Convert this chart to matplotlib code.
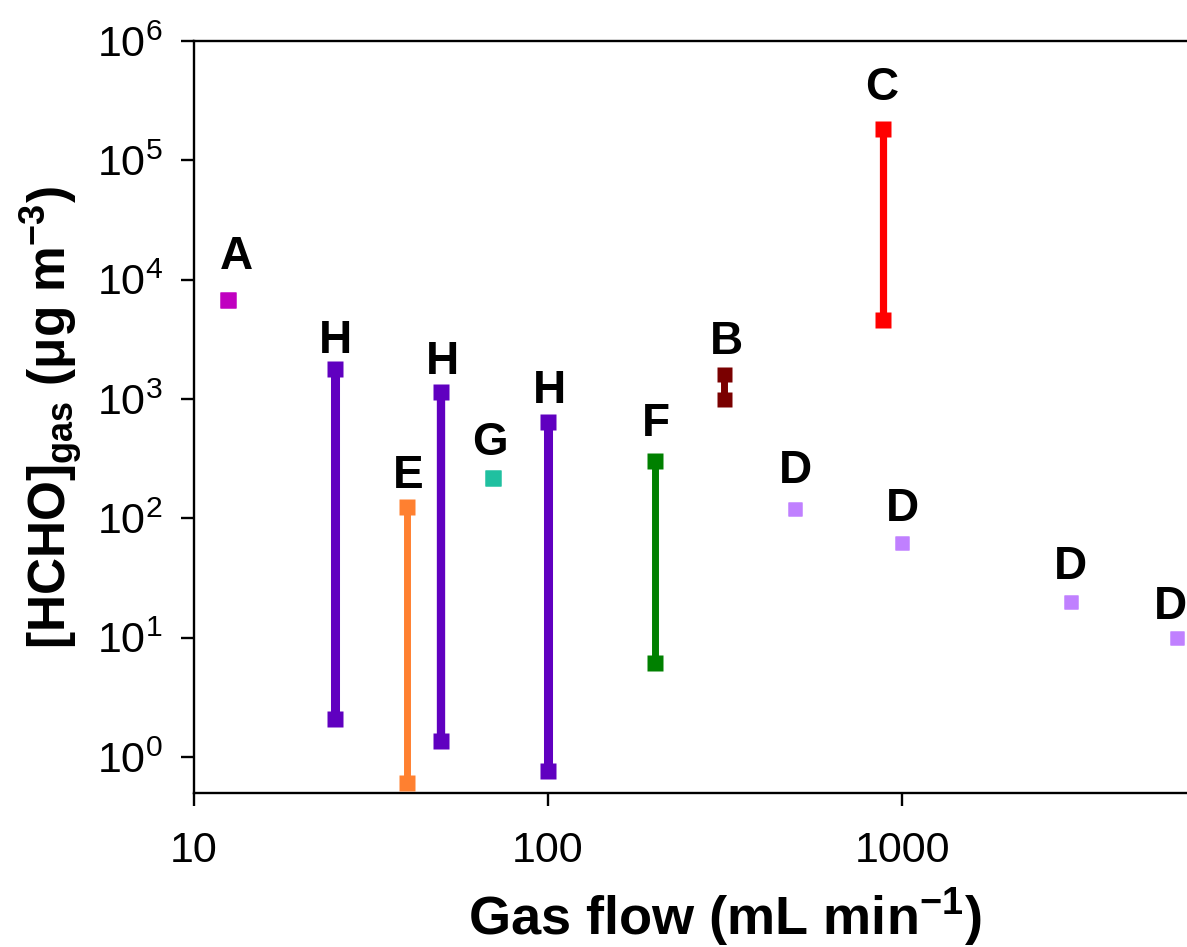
import matplotlib
matplotlib.use("Agg")
import matplotlib.pyplot as plt
from matplotlib.ticker import FixedLocator, FixedFormatter, LogFormatterMathtext, NullLocator

plt.rcParams['font.family'] = ['Liberation Sans', 'DejaVu Sans']
plt.rcParams['mathtext.fontset'] = 'custom'
plt.rcParams['mathtext.rm'] = 'Liberation Sans'
plt.rcParams['mathtext.it'] = 'Liberation Sans:italic'
plt.rcParams['mathtext.bf'] = 'Liberation Sans:bold'

# ---- data ----
labels = ['A', 'H', 'E', 'H', 'G', 'H', 'F', 'B', 'C', 'D', 'D', 'D', 'D']
gas_flow = [12.5, 25, 40, 50, 70, 100, 200, 315, 885, 500, 1000, 3000, 6000]
hcho_low = [6800, 2.1, 0.61, 1.36, 216, 0.76, 6.1, 1000, 4600, 120, 62, 20, 10]
hcho_high = [6800, 1770, 125, 1150, 216, 643, 300, 1620, 184000, 120, 62, 20, 10]
colors = ['#C000C0', '#6000C0', '#FF8030', '#6000C0', '#20C0A0', '#6000C0',
          '#008000', '#7A0000', '#FF0000', '#C080FF', '#C080FF', '#C080FF', '#C080FF']
x_ticks = [10, 100, 1000]
x_ticklabels = ['10', '100', '1000']
y_ticks = [1, 10, 100, 1000, 1e4, 1e5, 1e6]

# ---- layout / style ----
line_widths = [0, 6.5, 5, 6, 0, 6.5, 5, 5, 5.2, 0, 0, 0, 0]
marker_sizes = [11, 11, 11, 11, 12, 11, 11, 10.8, 11, 10.6, 10.6, 10.6, 10.6]
# label placement relative to top marker, in pixels (dx, dy up)
label_dx = [8, 1, 1, 1, -3, 1, 1, 2, -2, 0, 0, 0, -7]
label_dy = [31, 16, 19, 18, 23, 19, 25, 20, 29, 26, 22, 23, 19]

W, H = 1187, 947
fig = plt.figure(figsize=(W / 100, H / 100), dpi=100)
ax_left, ax_right = 194, 1256
ax_top, ax_bottom = 41, 793
ax = fig.add_axes([ax_left / W, (H - ax_bottom) / H,
                   (ax_right - ax_left) / W, (ax_bottom - ax_top) / H])
ax.set_xscale('log')
ax.set_yscale('log')
ax.set_xlim(10, 10000)
ax.set_ylim(0.5, 1e6)

px2pt = 72 / 100
for i in range(len(labels)):
    xs = [gas_flow[i], gas_flow[i]]
    ys = [hcho_low[i], hcho_high[i]]
    if line_widths[i] > 0:
        ax.plot(xs, ys, color=colors[i], lw=line_widths[i], solid_capstyle='butt', zorder=2)
    ax.plot(xs, ys, linestyle='none', marker='s', ms=marker_sizes[i],
            mfc=colors[i], mec='none', zorder=3)
    ax.annotate(labels[i], (gas_flow[i], hcho_high[i]),
                xytext=(label_dx[i] * px2pt, label_dy[i] * px2pt),
                textcoords='offset points', ha='center', va='baseline',
                fontsize=33, fontweight='bold', color='black',
                annotation_clip=False)

for side in ['left', 'bottom', 'top']:
    ax.spines[side].set_linewidth(1.7)
    ax.spines[side].set_color('black')
ax.spines['right'].set_visible(False)

ax.xaxis.set_major_locator(FixedLocator(x_ticks))
ax.xaxis.set_major_formatter(FixedFormatter(x_ticklabels))
ax.xaxis.set_minor_locator(NullLocator())
ax.yaxis.set_major_locator(FixedLocator(y_ticks))
ax.yaxis.set_major_formatter(LogFormatterMathtext())
ax.yaxis.set_minor_locator(NullLocator())
ax.tick_params(axis='both', which='major', direction='out', length=9.4, width=1.7,
               labelsize=31, colors='black')
ax.tick_params(axis='x', pad=18)
ax.tick_params(axis='y', pad=13)

ax.set_xlabel(r'Gas flow (mL min$^{\mathbf{-1}}$)', fontsize=39, fontweight='bold')
ax.xaxis.label.set_va('baseline')
ax.xaxis.set_label_coords(0.5, (ax_bottom - 935) / (ax_bottom - ax_top))

ax.set_ylabel(r'[HCHO]$_{\mathbf{gas}}$ ($\mathbf{\mu}$g m$^{\mathbf{-3}}$)',
              fontsize=37, fontweight='bold')
ax.yaxis.label.set_va('center')
ax.yaxis.set_label_coords((52 - ax_left) / (ax_right - ax_left), 0.5)

fig.savefig('out.png', dpi=100)
